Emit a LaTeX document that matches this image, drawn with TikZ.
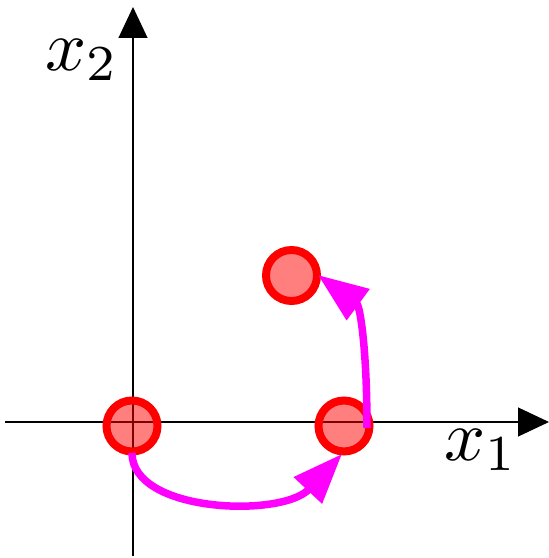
\documentclass[tikz,border=0pt]{standalone}
\usetikzlibrary{arrows.meta}
\definecolor{mag}{RGB}{255,0,255}
\begin{document}
\begin{tikzpicture}[x=1pt,y=1pt,
  axis/.style={line width=1.1pt, black, -{Triangle[length=31pt,width=29pt]}},
  dot/.style={circle, minimum size=51pt, inner sep=0pt, line width=8pt, draw=red, fill=red, fill opacity=0.5, draw opacity=1},
  move/.style={line width=7.5pt, mag, -{Triangle[length=50pt,width=37pt]}},
  lab/.style={inner sep=0pt}]
\useasboundingbox (0,0) rectangle (549,558);
\coordinate (xs) at (5,136);
\coordinate (xe) at (549,136);
\coordinate (ys) at (133,2);
\coordinate (ye) at (133,551);
\draw[axis] (xs) -- (xe);
\draw[axis] (ys) -- (ye);
\node[lab] (l1) at (481,108) {\scalebox{7.2}{$x_1$}};
\node[lab] (l2) at (82,498) {\scalebox{7.2}{$x_2$}};
\node[dot] (a) at (132,132) {};
\node[dot] (b) at (344,132) {};
\node[dot] (c) at (291.5,282.5) {};
\coordinate (s1) at (132,105);
\coordinate (t1) at (342,104);
\coordinate (s2) at (367,130);
\coordinate (t2) at (318,283);
\draw[move] (s1) .. controls (132,45) and (282,40) .. (t1);
\draw[move] (s2) .. controls (367,210) and (360,252) .. (t2);
\end{tikzpicture}
\end{document}
